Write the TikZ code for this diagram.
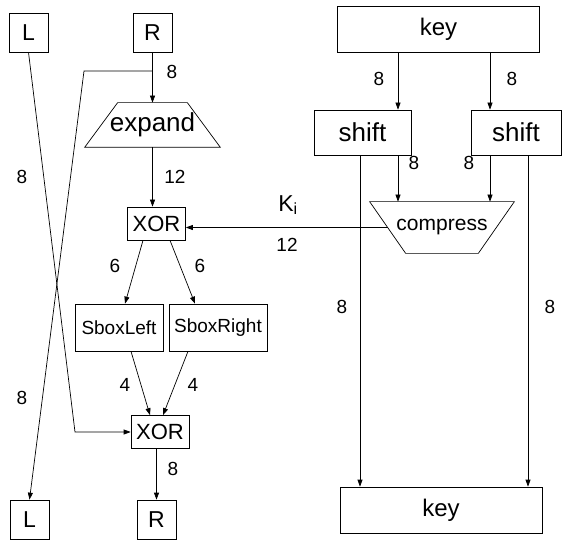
\documentclass[tikz,border=0pt]{standalone}
\usepackage{fontspec}
\setmainfont{Liberation Sans}
\usetikzlibrary{shapes.geometric, arrows.meta, positioning, calc}

\newcommand{\bigtxt}{\fontsize{26}{28}\selectfont}
\newcommand{\midtxt}{\fontsize{22}{24}\selectfont}
\newcommand{\smalltxt}{\fontsize{19}{21}\selectfont}

\begin{document}
\begin{tikzpicture}[
    x=1pt, y=-1pt, line width=0.7pt,
    sqbox/.style={rectangle, draw, minimum size=39pt, inner sep=0pt, font=\fontsize{23}{25}\selectfont},
    xorbox/.style={rectangle, draw, minimum width=58pt, minimum height=33pt,
                   inner sep=0pt, font=\midtxt},
    sbox/.style={rectangle, draw, minimum height=47pt, inner sep=0pt, font=\smalltxt},
    shiftbox/.style={rectangle, draw, minimum height=45pt, inner sep=0pt, font=\bigtxt},
    keybox/.style={rectangle, draw, minimum width=202pt, minimum height=46pt,
                   inner sep=0pt, font=\fontsize{24}{26}\selectfont},
    trapbox/.style={rectangle, inner sep=0pt},
    bits/.style={font=\smalltxt, inner sep=1pt},
    arr/.style={-{Triangle[length=7pt,width=5pt]}},
]

\useasboundingbox (0,0) rectangle (562,540);

% Round function (left half)
\node[sqbox] (Ltop) at (28.5,32.5) {L};
\node[sqbox] (Rtop) at (152.5,32.5) {R};
\node[trapbox, minimum width=135pt, minimum height=44pt, font=\bigtxt] (expand) at (152.5,125) {expand};
\draw (expand.south west) -- (expand.south east) -- ([xshift=-33pt]expand.north east)
      -- ([xshift=33pt]expand.north west) -- cycle;
\node[xorbox] (xorA) at (156.5,223.5) {XOR};
\node[sbox, minimum width=88pt] (sboxL) at (119,327.5) {SboxLeft};
\node[sbox, minimum width=98pt] (sboxR) at (218,327.5) {SboxRight};
\node[xorbox] (xorB) at (160,432) {XOR};
\node[sqbox] (Lbot) at (29.5,519.5) {L};
\node[sqbox] (Rbot) at (156.5,519.5) {R};

% Key schedule (right half)
\node[keybox] (keyTop) at (438.5,29) {key};
\node[shiftbox, minimum width=97pt] (shiftL) at (362.5,132.5) {shift};
\node[shiftbox, minimum width=90pt] (shiftR) at (516,132.5) {shift};
\node[trapbox, minimum width=144pt, minimum height=51pt, font=\fontsize{21}{23}\selectfont] (compress) at (442,227.5) {compress};
\draw (compress.north west) -- (compress.north east) -- ([xshift=-36pt]compress.south east)
      -- ([xshift=36pt]compress.south west) -- cycle;
\node[keybox] (keyBot) at (441,510) {key};

% Bends and columns
\coordinate (splitR) at (152.5,71);
\coordinate (bendR) at (84,71);
\coordinate (bendL) at (75,432);
\coordinate (colA) at (398,0);
\coordinate (colB) at (490,0);
\coordinate (colC) at (360,0);
\coordinate (colD) at (528,0);

% Data path
\draw[arr] (Rtop.south) -- (expand.north);
\draw[arr] (splitR) -- (bendR) -- (Lbot.north);
\draw[arr] (Ltop.south) -- (bendL) -- (xorB.west);
\draw[arr] (expand.south) -- (expand.south |- xorA.north);
\draw[arr] ([xshift=18pt]compress.west) -- (compress -| xorA.east);
\draw[arr] ([xshift=-13.5pt]xorA.south) -- ([xshift=6pt]sboxL.north);
\draw[arr] ([xshift=13.5pt]xorA.south) -- ([xshift=-23pt]sboxR.north);
\draw[arr] ([xshift=12pt]sboxL.south) -- ([xshift=-10pt]xorB.north);
\draw[arr] ([xshift=-30pt]sboxR.south) -- ([xshift=3pt]xorB.north);
\draw[arr] (xorB.south -| Rbot.north) -- (Rbot.north);

% Key path
\foreach \c/\s in {colA/shiftL, colB/shiftR} {
    \draw[arr] (keyTop.south -| \c) -- (\s.north -| \c);
    \draw[arr] (\s.south -| \c) -- (compress.north -| \c);
}
\foreach \c/\s in {colC/shiftL, colD/shiftR} {
    \draw[arr] (\s.south -| \c) -- (keyBot.north -| \c);
}

% Bit widths
\node[bits] (wR) at (172,72) {8};
\node[bits] (wL) at (22,177) {8};
\node[bits] (wE) at (175,177) {12};
\node[font=\fontsize{23}{25}\selectfont] (wKi) at (288,205) {K\textsubscript{i}};
\node[bits] (wK) at (287,245) {12};
\node[bits] (wSL) at (115,266) {6};
\node[bits] (wSR) at (200,266) {6};
\node[bits] (wOL) at (125,385) {4};
\node[bits] (wOR) at (193,385) {4};
\node[bits] (wLx) at (22,398) {8};
\node[bits] (wX) at (173,469) {8};
\node[bits] (wT1) at (379,79) {8};
\node[bits] (wT2) at (512,79) {8};
\node[bits] (wC1) at (414,163) {8};
\node[bits] (wC2) at (469,163) {8};
\node[bits] (wB1) at (342,307) {8};
\node[bits] (wB2) at (550,307) {8};

\end{tikzpicture}
\end{document}
